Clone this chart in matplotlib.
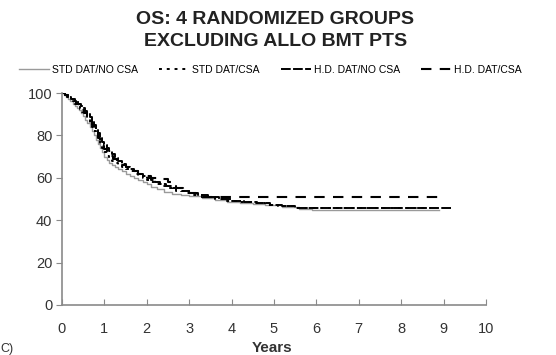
import matplotlib
matplotlib.use("Agg")
import matplotlib.pyplot as plt

plt.rcParams['font.family'] = ['Liberation Sans', 'DejaVu Sans']

# Kaplan-Meier steps: (years, % surviving)
std_nocsa = [(0, 100), (0.05, 99), (0.1, 98), (0.15, 97), (0.2, 96), (0.25, 95), (0.3, 94),
             (0.35, 93), (0.4, 92), (0.45, 90.5), (0.5, 89), (0.55, 87.5), (0.6, 86),
             (0.65, 84), (0.7, 82), (0.75, 80), (0.8, 78), (0.85, 76), (0.9, 74),
             (0.95, 72), (1.0, 70), (1.05, 68.5), (1.1, 67), (1.18, 66), (1.25, 65),
             (1.33, 64), (1.42, 63), (1.5, 62), (1.6, 61), (1.7, 60), (1.8, 59), (1.9, 58),
             (2.0, 57), (2.1, 55.5), (2.25, 54.5), (2.4, 53.5), (2.6, 52.5), (2.8, 52),
             (3.0, 51.5), (3.3, 50.5), (3.6, 49.5), (3.9, 48.5), (4.2, 48), (4.5, 47.5),
             (4.8, 47), (5.2, 46), (5.6, 45.5), (5.9, 44.6), (8.9, 44.6)]

std_csa = [(0, 100), (0.06, 99), (0.12, 98), (0.18, 97), (0.25, 96), (0.3, 95), (0.36, 94),
           (0.42, 92.5), (0.48, 91), (0.54, 89.5), (0.6, 88), (0.65, 86), (0.7, 84),
           (0.75, 82), (0.8, 80), (0.85, 78), (0.9, 76), (0.95, 74), (1.0, 72),
           (1.05, 70.5), (1.1, 69), (1.17, 68), (1.25, 67), (1.33, 66), (1.42, 65),
           (1.5, 64), (1.6, 63), (1.7, 62), (1.8, 61), (1.9, 60), (2.0, 59), (2.1, 58),
           (2.2, 57), (2.35, 56), (2.5, 55), (2.7, 54), (2.9, 53), (3.1, 52), (3.3, 51),
           (3.6, 50), (3.9, 49), (4.2, 48.5), (4.5, 48), (4.8, 47), (5.1, 46.5),
           (5.5, 45.7), (8.7, 45.7)]

hd_nocsa = [(0, 100), (0.08, 99), (0.15, 98), (0.22, 97), (0.3, 96), (0.38, 95), (0.45, 94),
            (0.5, 93), (0.55, 91.5), (0.6, 90), (0.65, 88.5), (0.7, 87), (0.75, 85),
            (0.8, 83), (0.85, 81), (0.9, 79), (0.95, 77), (1.0, 75.5), (1.05, 74),
            (1.1, 72.5), (1.17, 71), (1.25, 69.5), (1.33, 68), (1.42, 66.5), (1.5, 65),
            (1.6, 64), (1.7, 63), (1.8, 62), (1.9, 61), (2.0, 60), (2.1, 59), (2.2, 58),
            (2.3, 57), (2.45, 56), (2.6, 55), (2.8, 54), (3.0, 53), (3.2, 52), (3.45, 51),
            (3.7, 50), (4.0, 49), (4.3, 48.5), (4.6, 48), (4.9, 47.2), (5.2, 46.5),
            (5.5, 45.8), (9.2, 45.8)]

hd_csa = [(0, 100), (0.07, 99), (0.14, 98), (0.2, 97), (0.27, 96), (0.34, 95), (0.4, 93.5),
          (0.46, 92), (0.52, 90.5), (0.58, 89), (0.64, 87), (0.7, 85), (0.75, 83),
          (0.8, 81), (0.85, 79), (0.9, 77), (0.95, 75), (1.0, 73.5), (1.05, 72),
          (1.12, 70.5), (1.2, 69), (1.3, 67.5), (1.4, 66), (1.5, 65), (1.6, 64), (1.7, 63),
          (1.8, 62), (1.95, 61), (2.1, 60), (2.25, 59.5), (2.5, 58), (2.6, 56), (2.7, 55),
          (2.85, 54), (3.0, 53), (3.15, 52), (3.3, 50.8), (9.0, 50.8)]

labels = ["STD DAT/NO CSA", "STD DAT/CSA", "H.D. DAT/NO CSA", "H.D. DAT/CSA"]
x_ticks = list(range(0, 11))
y_ticks = [0, 20, 40, 60, 80, 100]

fig = plt.figure(figsize=(5.56, 3.55), dpi=100)
ax = fig.add_axes([0.1115, 0.141, 0.7625, 0.597])

styles = [dict(color='#9a9a9a', lw=1.0, linestyle='-'),
          dict(color='black', lw=1.4, linestyle=(0, (1.5, 2.5))),
          dict(color='black', lw=1.4, linestyle=(0, (5, 1.2))),
          dict(color='black', lw=1.5, linestyle=(0, (5, 4)))]

handles = []
for curve, st in zip([std_nocsa, std_csa, hd_nocsa, hd_csa], styles):
    t, s = zip(*curve)
    ln, = ax.step(t, s, where='post', **st)
    handles.append(ln)

ax.set_xlim(0, 10)
ax.set_ylim(0, 100)
ax.set_xticks(x_ticks)
ax.set_yticks(y_ticks)
for side in ['top', 'right']:
    ax.spines[side].set_visible(False)
for side in ['left', 'bottom']:
    ax.spines[side].set_color('#8a8a8a')
    ax.spines[side].set_linewidth(1.2)
ax.tick_params(axis='x', direction='in', length=4, pad=12, colors='#8a8a8a',
               labelcolor='#333333', labelsize=10.5)
ax.tick_params(axis='y', direction='out', length=4, pad=3, colors='#8a8a8a',
               labelcolor='#333333', labelsize=10.5)

fig.text(0.495, 0.944, "OS: 4 RANDOMIZED GROUPS", ha='center', va='center',
         fontsize=14, fontweight='bold', color='#222222')
fig.text(0.495, 0.882, "EXCLUDING ALLO BMT PTS", ha='center', va='center',
         fontsize=14, fontweight='bold', color='#222222')

fig.legend(handles, labels, loc='center', bbox_to_anchor=(0.486, 0.803),
           ncol=4, frameon=False, fontsize=7.5, handlelength=2.9,
           handletextpad=0.3, columnspacing=2.0, borderpad=0)

fig.text(0.489, 0.02, "Years", ha='center', va='center', fontsize=11,
         fontweight='bold', color='#333333')
fig.text(0.0, 0.0, "C)", ha='left', va='bottom', fontsize=9, color='#333333')

fig.savefig("out.png", dpi=100)
